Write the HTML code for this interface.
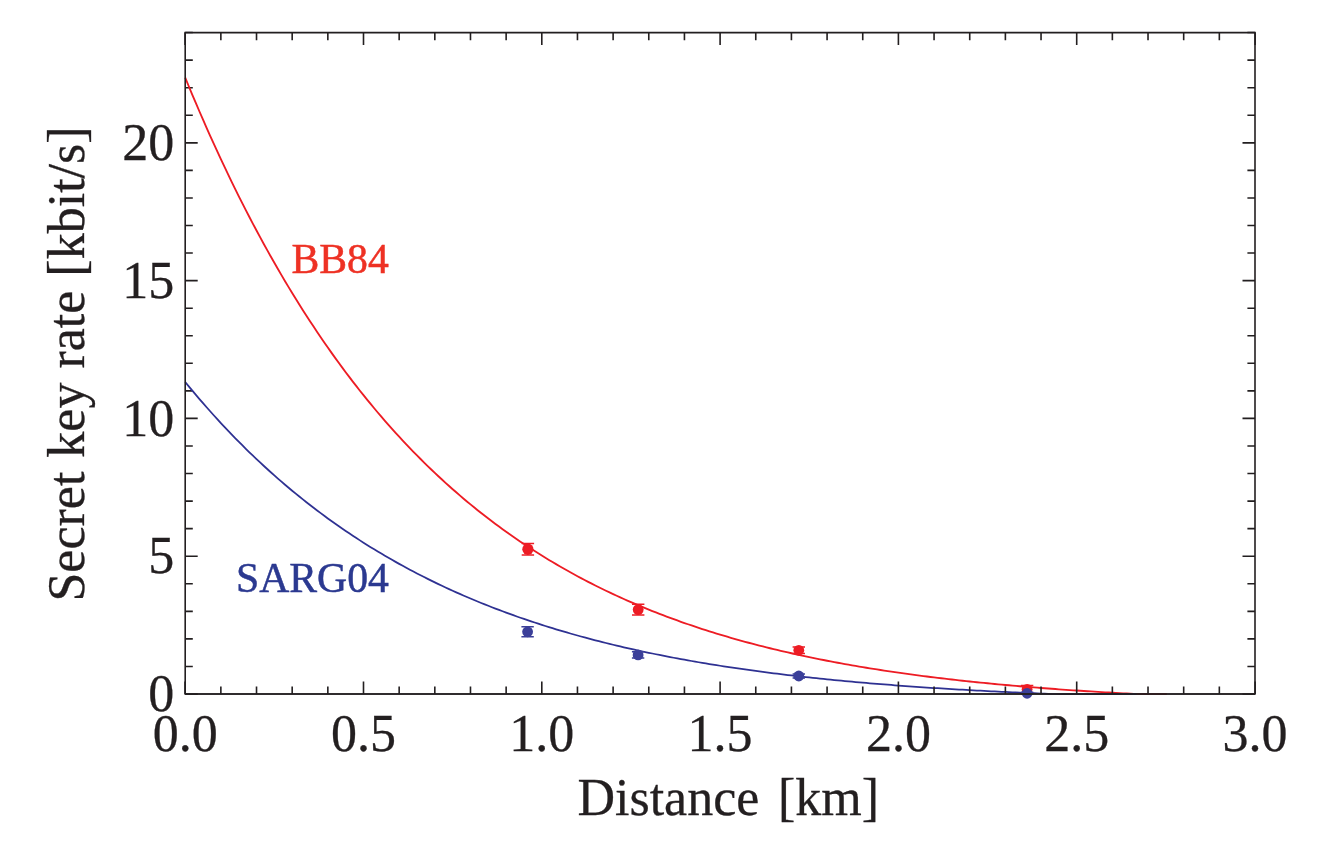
<!DOCTYPE html>
<html lang="en"><head><meta charset="utf-8"><title>Secret key rate vs distance</title>
<style>html,body{margin:0;padding:0;background:#fff}body{width:1335px;height:841px;overflow:hidden}svg{display:block}text{font-family:"Liberation Serif","Times New Roman",Times,serif}.k{fill:#231f20;stroke:#231f20;stroke-width:.3px}</style></head><body>
<svg width="1335" height="841" viewBox="0 0 1335 841">
<rect width="1335" height="841" fill="#fff"/>
<path d="M185.2 666.44h7.6M1255.0 666.44h-7.6M185.2 638.88h7.6M1255.0 638.88h-7.6M185.2 611.33h7.6M1255.0 611.33h-7.6M185.2 583.77h7.6M1255.0 583.77h-7.6M185.2 556.21h12.5M1255.0 556.21h-12.5M185.2 528.65h7.6M1255.0 528.65h-7.6M185.2 501.09h7.6M1255.0 501.09h-7.6M185.2 473.53h7.6M1255.0 473.53h-7.6M185.2 445.98h7.6M1255.0 445.98h-7.6M185.2 418.42h12.5M1255.0 418.42h-12.5M185.2 390.86h7.6M1255.0 390.86h-7.6M185.2 363.30h7.6M1255.0 363.30h-7.6M185.2 335.74h7.6M1255.0 335.74h-7.6M185.2 308.18h7.6M1255.0 308.18h-7.6M185.2 280.62h12.5M1255.0 280.62h-12.5M185.2 253.07h7.6M1255.0 253.07h-7.6M185.2 225.51h7.6M1255.0 225.51h-7.6M185.2 197.95h7.6M1255.0 197.95h-7.6M185.2 170.39h7.6M1255.0 170.39h-7.6M185.2 142.83h12.5M1255.0 142.83h-12.5M185.2 115.27h7.6M1255.0 115.27h-7.6M185.2 87.72h7.6M1255.0 87.72h-7.6M185.2 60.16h7.6M1255.0 60.16h-7.6" fill="none" stroke="#231f20" stroke-width="1.6"/>
<path d="M185.20 77.58 188.77 86.23 192.33 94.77 195.90 103.19 199.46 111.51 203.03 119.71 206.60 127.81 210.16 135.80 213.73 143.68 217.29 151.46 220.86 159.14 224.43 166.72 227.99 174.20 231.56 181.57 235.12 188.85 238.69 196.04 242.26 203.12 245.82 210.12 249.39 217.02 252.95 223.83 256.52 230.55 260.09 237.18 263.65 243.72 267.22 250.17 270.78 256.54 274.35 262.82 277.92 269.02 281.48 275.13 285.05 281.17 288.61 287.12 292.18 292.99 295.75 298.79 299.31 304.50 302.88 310.14 306.44 315.71 310.01 321.20 313.58 326.61 317.14 331.96 320.71 337.23 324.27 342.43 327.84 347.55 331.41 352.61 334.97 357.61 338.54 362.53 342.10 367.39 345.67 372.18 349.24 376.91 352.80 381.57 356.37 386.17 359.93 390.71 363.50 395.18 367.07 399.59 370.63 403.95 374.20 408.24 377.76 412.48 381.33 416.66 384.90 420.78 388.46 424.85 392.03 428.86 395.59 432.81 399.16 436.71 402.73 440.56 406.29 444.35 409.86 448.10 413.42 451.79 416.99 455.43 420.56 459.02 424.12 462.56 427.69 466.05 431.25 469.50 434.82 472.89 438.39 476.24 441.95 479.55 445.52 482.81 449.08 486.02 452.65 489.19 456.22 492.31 459.78 495.39 463.35 498.43 466.91 501.43 470.48 504.38 474.05 507.30 477.61 510.17 481.18 513.01 484.74 515.80 488.31 518.56 491.88 521.27 495.44 523.95 499.01 526.59 502.57 529.20 506.14 531.77 509.71 534.30 513.27 536.80 516.84 539.26 520.40 541.69 523.97 544.08 527.54 546.44 531.10 548.77 534.67 551.06 538.23 553.32 541.80 555.55 545.37 557.75 548.93 559.92 552.50 562.06 556.06 564.16 559.63 566.24 563.20 568.29 566.76 570.31 570.33 572.30 573.89 574.26 577.46 576.20 581.03 578.10 584.59 579.98 588.16 581.84 591.72 583.66 595.29 585.47 598.86 587.24 602.42 588.99 605.99 590.72 609.55 592.42 613.12 594.09 616.69 595.75 620.25 597.38 623.82 598.98 627.38 600.56 630.95 602.12 634.52 603.66 638.08 605.18 641.65 606.67 645.21 608.15 648.78 609.60 652.35 611.03 655.91 612.44 659.48 613.83 663.04 615.20 666.61 616.55 670.18 617.88 673.74 619.19 677.31 620.48 680.87 621.76 684.44 623.01 688.01 624.25 691.57 625.47 695.14 626.67 698.70 627.86 702.27 629.02 705.84 630.17 709.40 631.31 712.97 632.42 716.53 633.52 720.10 634.61 723.67 635.68 727.23 636.73 730.80 637.77 734.36 638.79 737.93 639.80 741.50 640.80 745.06 641.77 748.63 642.74 752.19 643.69 755.76 644.63 759.33 645.55 762.89 646.46 766.46 647.35 770.02 648.24 773.59 649.11 777.16 649.96 780.72 650.81 784.29 651.64 787.85 652.46 791.42 653.27 794.99 654.07 798.55 654.85 802.12 655.62 805.68 656.38 809.25 657.13 812.82 657.87 816.38 658.60 819.95 659.32 823.51 660.02 827.08 660.72 830.65 661.41 834.21 662.08 837.78 662.75 841.34 663.40 844.91 664.05 848.48 664.68 852.04 665.31 855.61 665.93 859.17 666.54 862.74 667.14 866.31 667.73 869.87 668.31 873.44 668.88 877.00 669.45 880.57 670.00 884.14 670.55 887.70 671.09 891.27 671.62 894.83 672.14 898.40 672.66 901.97 673.16 905.53 673.66 909.10 674.16 912.66 674.64 916.23 675.12 919.80 675.59 923.36 676.05 926.93 676.51 930.49 676.96 934.06 677.40 937.63 677.84 941.19 678.27 944.76 678.69 948.32 679.11 951.89 679.52 955.46 679.92 959.02 680.32 962.59 680.71 966.15 681.10 969.72 681.48 973.29 681.85 976.85 682.22 980.42 682.58 983.98 682.94 987.55 683.29 991.12 683.64 994.68 683.98 998.25 684.32 1001.81 684.65 1005.38 684.97 1008.95 685.29 1012.51 685.61 1016.08 685.92 1019.64 686.23 1023.21 686.53 1026.78 686.83 1030.34 687.12 1033.91 687.41 1037.47 687.69 1041.04 687.97 1044.61 688.24 1048.17 688.51 1051.74 688.78 1055.30 689.04 1058.87 689.30 1062.44 689.56 1066.00 689.81 1069.57 690.05 1073.13 690.30 1076.70 690.54 1080.27 690.77 1083.83 691.00 1087.40 691.23 1090.96 691.45 1094.53 691.68 1098.10 691.89 1101.66 692.11 1105.23 692.32 1108.79 692.53 1112.36 692.73 1115.93 692.93 1119.49 693.13 1123.06 693.32 1126.62 693.52 1130.19 693.70 1133.76 693.89 1137.32 694.00 1140.89 694.00 1144.45 694.00 1148.02 694.00 1151.59 694.00 1155.15 694.00 1158.72 694.00 1162.28 694.00 1165.85 694.00 1166.80 694.00" fill="none" stroke="#ed1c24" stroke-width="1.85" stroke-linejoin="round"/>
<path d="M185.20 382.00 188.77 386.34 192.33 390.64 195.90 394.87 199.46 399.06 203.03 403.19 206.60 407.26 210.16 411.28 213.73 415.26 217.29 419.18 220.86 423.05 224.43 426.87 227.99 430.64 231.56 434.36 235.12 438.03 238.69 441.66 242.26 445.24 245.82 448.77 249.39 452.26 252.95 455.70 256.52 459.09 260.09 462.45 263.65 465.75 267.22 469.02 270.78 472.24 274.35 475.42 277.92 478.56 281.48 481.66 285.05 484.72 288.61 487.73 292.18 490.71 295.75 493.65 299.31 496.55 302.88 499.41 306.44 502.24 310.01 505.02 313.58 507.77 317.14 510.49 320.71 513.17 324.27 515.81 327.84 518.42 331.41 520.99 334.97 523.53 338.54 526.04 342.10 528.51 345.67 530.95 349.24 533.35 352.80 535.73 356.37 538.07 359.93 540.39 363.50 542.67 367.07 544.92 370.63 547.14 374.20 549.33 377.76 551.49 381.33 553.62 384.90 555.73 388.46 557.80 392.03 559.85 395.59 561.87 399.16 563.87 402.73 565.83 406.29 567.77 409.86 569.69 413.42 571.57 416.99 573.44 420.56 575.27 424.12 577.09 427.69 578.88 431.25 580.64 434.82 582.38 438.39 584.10 441.95 585.79 445.52 587.46 449.08 589.11 452.65 590.73 456.22 592.33 459.78 593.91 463.35 595.47 466.91 597.01 470.48 598.53 474.05 600.03 477.61 601.50 481.18 602.96 484.74 604.39 488.31 605.81 491.88 607.20 495.44 608.58 499.01 609.94 502.57 611.28 506.14 612.60 509.71 613.90 513.27 615.19 516.84 616.46 520.40 617.71 523.97 618.94 527.54 620.15 531.10 621.35 534.67 622.53 538.23 623.70 541.80 624.85 545.37 625.98 548.93 627.10 552.50 628.20 556.06 629.29 559.63 630.36 563.20 631.42 566.76 632.46 570.33 633.49 573.89 634.50 577.46 635.50 581.03 636.48 584.59 637.45 588.16 638.41 591.72 639.36 595.29 640.29 598.86 641.20 602.42 642.11 605.99 643.00 609.55 643.88 613.12 644.75 616.69 645.60 620.25 646.44 623.82 647.28 627.38 648.09 630.95 648.90 634.52 649.70 638.08 650.48 641.65 651.26 645.21 652.02 648.78 652.77 652.35 653.51 655.91 654.24 659.48 654.96 663.04 655.67 666.61 656.37 670.18 657.06 673.74 657.74 677.31 658.41 680.87 659.07 684.44 659.72 688.01 660.36 691.57 661.00 695.14 661.62 698.70 662.24 702.27 662.84 705.84 663.44 709.40 664.03 712.97 664.61 716.53 665.18 720.10 665.74 723.67 666.30 727.23 666.84 730.80 667.38 734.36 667.91 737.93 668.44 741.50 668.95 745.06 669.46 748.63 669.96 752.19 670.46 755.76 670.94 759.33 671.42 762.89 671.90 766.46 672.36 770.02 672.82 773.59 673.27 777.16 673.72 780.72 674.16 784.29 674.59 787.85 675.02 791.42 675.44 794.99 675.85 798.55 676.26 802.12 676.66 805.68 677.06 809.25 677.45 812.82 677.83 816.38 678.21 819.95 678.59 823.51 678.95 827.08 679.32 830.65 679.67 834.21 680.03 837.78 680.37 841.34 680.71 844.91 681.05 848.48 681.38 852.04 681.71 855.61 682.03 859.17 682.35 862.74 682.66 866.31 682.97 869.87 683.27 873.44 683.57 877.00 683.86 880.57 684.15 884.14 684.44 887.70 684.72 891.27 684.99 894.83 685.27 898.40 685.53 901.97 685.80 905.53 686.06 909.10 686.32 912.66 686.57 916.23 686.82 919.80 687.06 923.36 687.31 926.93 687.54 930.49 687.78 934.06 688.01 937.63 688.24 941.19 688.46 944.76 688.68 948.32 688.90 951.89 689.11 955.46 689.32 959.02 689.53 962.59 689.73 966.15 689.94 969.72 690.13 973.29 690.33 976.85 690.52 980.42 690.71 983.98 690.90 987.55 691.08 991.12 691.26 994.68 691.44 998.25 691.61 1001.81 691.79 1005.38 691.96 1008.95 692.12 1012.51 692.29 1016.08 692.45 1019.64 692.61 1023.21 692.77 1026.78 692.92 1030.34 693.08 1033.91 693.23 1037.47 693.37 1041.04 693.52 1044.61 693.66 1048.17 693.80 1051.74 693.94 1055.30 694.00 1058.87 694.00 1062.44 694.00 1066.00 694.00 1069.57 694.00 1073.13 694.00 1076.70 694.00 1080.27 694.00 1083.83 694.00 1087.40 694.00 1090.96 694.00 1094.53 694.00 1098.10 694.00 1101.66 694.00 1105.23 694.00 1108.79 694.00 1112.36 694.00 1115.93 694.00 1119.49 694.00 1123.06 694.00 1126.62 694.00 1130.19 694.00 1133.76 694.00 1136.70 694.00" fill="none" stroke="#2e3192" stroke-width="1.75" stroke-linejoin="round"/>
<path d="M220.86 694.0v-7.6M220.86 32.6v7.6M256.52 694.0v-7.6M256.52 32.6v7.6M292.18 694.0v-7.6M292.18 32.6v7.6M327.84 694.0v-7.6M327.84 32.6v7.6M363.50 694.0v-12.5M363.50 32.6v12.5M399.16 694.0v-7.6M399.16 32.6v7.6M434.82 694.0v-7.6M434.82 32.6v7.6M470.48 694.0v-7.6M470.48 32.6v7.6M506.14 694.0v-7.6M506.14 32.6v7.6M541.80 694.0v-12.5M541.80 32.6v12.5M577.46 694.0v-7.6M577.46 32.6v7.6M613.12 694.0v-7.6M613.12 32.6v7.6M648.78 694.0v-7.6M648.78 32.6v7.6M684.44 694.0v-7.6M684.44 32.6v7.6M720.10 694.0v-12.5M720.10 32.6v12.5M755.76 694.0v-7.6M755.76 32.6v7.6M791.42 694.0v-7.6M791.42 32.6v7.6M827.08 694.0v-7.6M827.08 32.6v7.6M862.74 694.0v-7.6M862.74 32.6v7.6M898.40 694.0v-12.5M898.40 32.6v12.5M934.06 694.0v-7.6M934.06 32.6v7.6M969.72 694.0v-7.6M969.72 32.6v7.6M1005.38 694.0v-7.6M1005.38 32.6v7.6M1041.04 694.0v-7.6M1041.04 32.6v7.6M1076.70 694.0v-12.5M1076.70 32.6v12.5M1112.36 694.0v-7.6M1112.36 32.6v7.6M1148.02 694.0v-7.6M1148.02 32.6v7.6M1183.68 694.0v-7.6M1183.68 32.6v7.6M1219.34 694.0v-7.6M1219.34 32.6v7.6" fill="none" stroke="#231f20" stroke-width="1.6"/>
<g stroke="#ed1c24" fill="#ed1c24" stroke-width="1.5"><path d="M527.9 543.4V555.1M521.7 543.4h12.4M521.7 555.1h12.4" fill="none"/><circle cx="527.9" cy="549.2" r="5.6" stroke="none"/></g>
<g stroke="#ed1c24" fill="#ed1c24" stroke-width="1.5"><path d="M638.2 604.2V615.0M632.0 604.2h12.4M632.0 615.0h12.4" fill="none"/><circle cx="638.2" cy="609.6" r="5.4" stroke="none"/></g>
<g stroke="#ed1c24" fill="#ed1c24" stroke-width="1.5"><path d="M798.8 647.0V653.6M792.6 647.0h12.4M792.6 653.6h12.4" fill="none"/><circle cx="798.8" cy="650.3" r="5.4" stroke="none"/></g>
<g stroke="#ed1c24" fill="#ed1c24" stroke-width="1.5"><path d="M1027.1 685.4V693.2M1020.9 685.4h12.4M1020.9 693.2h12.4" fill="none"/><circle cx="1027.1" cy="689.3" r="5.4" stroke="none"/></g>
<g stroke="#3b3f99" fill="#3b3f99" stroke-width="1.5"><path d="M527.6 626.8V636.8M521.4 626.8h12.4M521.4 636.8h12.4" fill="none"/><circle cx="527.6" cy="631.8" r="5.4" stroke="none"/></g>
<g stroke="#3b3f99" fill="#3b3f99" stroke-width="1.5"><path d="M638.1 651.8V658.0M631.9 651.8h12.4M631.9 658.0h12.4" fill="none"/><circle cx="638.1" cy="654.9" r="5.4" stroke="none"/></g>
<g stroke="#3b3f99" fill="#3b3f99" stroke-width="1.5"><path d="M798.8 674.0V678.0M792.6 674.0h12.4M792.6 678.0h12.4" fill="none"/><circle cx="798.8" cy="676.0" r="5.4" stroke="none"/></g>
<g stroke="#3b3f99" fill="#3b3f99" stroke-width="1.5"><path d="M1027.1 692.3V694.3M1020.9 692.3h12.4M1020.9 694.3h12.4" fill="none"/><circle cx="1027.1" cy="693.3" r="5.4" stroke="none"/></g>
<path d="M185.2 32.6H1255.0V694.0H185.2Z" fill="none" stroke="#231f20" stroke-width="1.6" stroke-linejoin="miter"/>
<path d="M185.2 694.0H1255.0" fill="none" stroke="#231f20" stroke-width="1.6"/>
<path d="M185.05 694.0v-12.5M185.05 32.6v12.5M1255.15 694.0v-12.5M1255.15 32.6v12.5M185.2 694.15h12.5M1255.0 694.15h-12.5M185.2 32.45h7.6M1255.0 32.45h-7.6" fill="none" stroke="#231f20" stroke-width="1.6"/>
<text x="185.2" y="751.3" font-size="52" text-anchor="middle" class="k" fill="#231f20">0.0</text>
<text x="363.5" y="751.3" font-size="52" text-anchor="middle" class="k" fill="#231f20">0.5</text>
<text x="541.8" y="751.3" font-size="52" text-anchor="middle" class="k" fill="#231f20">1.0</text>
<text x="720.1" y="751.3" font-size="52" text-anchor="middle" class="k" fill="#231f20">1.5</text>
<text x="898.4" y="751.3" font-size="52" text-anchor="middle" class="k" fill="#231f20">2.0</text>
<text x="1076.7" y="751.3" font-size="52" text-anchor="middle" class="k" fill="#231f20">2.5</text>
<text x="1255.0" y="751.3" font-size="52" text-anchor="middle" class="k" fill="#231f20">3.0</text>
<text x="174.2" y="711.2" font-size="52" text-anchor="end" class="k" fill="#231f20">0</text>
<text x="174.2" y="573.4" font-size="52" text-anchor="end" class="k" fill="#231f20">5</text>
<text x="174.2" y="435.6" font-size="52" text-anchor="end" class="k" fill="#231f20">10</text>
<text x="174.2" y="297.8" font-size="52" text-anchor="end" class="k" fill="#231f20">15</text>
<text x="174.2" y="160.0" font-size="52" text-anchor="end" class="k" fill="#231f20">20</text>
<text x="728.2" y="815.1" font-size="52" text-anchor="middle" word-spacing="5.6" class="k" fill="#231f20">Distance [km]</text>
<text transform="translate(83.8 364) rotate(-90)" font-size="52" text-anchor="middle" word-spacing="1" class="k" fill="#231f20">Secret key rate [kbit/s]</text>
<text x="291.5" y="272.8" font-size="41.7" fill="#ee3124" stroke="#ee3124" stroke-width="0.5">BB84</text>
<text x="236" y="592.2" font-size="41.7" fill="#2b3990" stroke="#2b3990" stroke-width="0.5">SARG04</text>
</svg></body></html>
